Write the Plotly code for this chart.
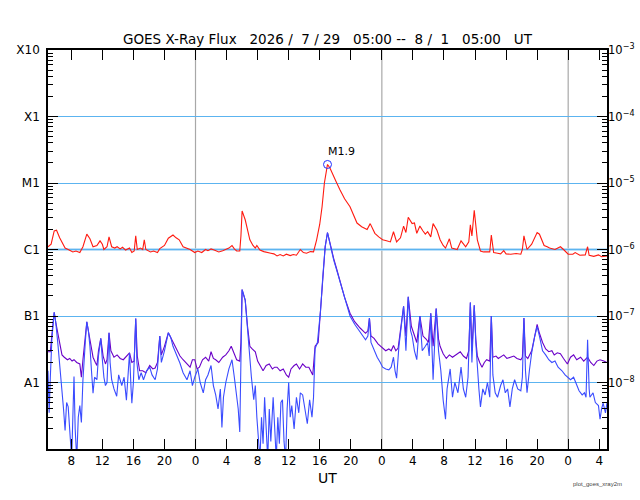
import plotly.graph_objects as go

# hours after 2026-07-29 05:00 UT, flux in W/m^2
red_pts = [
    (0.0, 1.1e-6), (0.4, 1.2e-6), (0.8, 1.9e-6), (1.1, 1.95e-6), (1.5, 1.5e-6), (2.2, 1.05e-6),
    (2.6, 1.0e-6), (3.2, 9.2e-7), (3.6, 9.5e-7), (4.1, 9e-7), (4.5, 1.1e-6), (5.0, 1.7e-6),
    (5.4, 1.45e-6), (5.8, 1.1e-6), (6.3, 1.15e-6), (6.7, 1.35e-6), (7.0, 1.2e-6), (7.2, 1.0e-6),
    (7.6, 1.1e-6), (7.86, 1.55e-6), (8.2, 1.1e-6), (8.6, 1.05e-6), (8.9, 1.1e-6), (9.3, 1.02e-6),
    (9.6, 1.08e-6), (10.0, 9.8e-7), (10.5, 1.05e-6), (10.8, 9e-7), (11.1, 9.5e-7), (11.3, 1.6e-6),
    (11.5, 1.0e-6), (11.9, 1.05e-6), (12.2, 1.0e-6), (12.4, 1.4e-6), (12.6, 1.0e-6), (13.2, 9.2e-7),
    (13.6, 9.5e-7), (14.1, 9e-7), (14.4, 1.03e-6), (15.0, 1.15e-6), (15.5, 1.48e-6), (16.1, 1.65e-6),
    (16.5, 1.5e-6), (16.9, 1.4e-6), (17.4, 1.1e-6), (17.9, 1.05e-6), (18.3, 1.0e-6), (18.9, 9e-7),
    (19.3, 9.5e-7), (19.8, 9e-7), (20.3, 1.0e-6), (20.6, 9.6e-7), (21.0, 1.02e-6), (21.4, 9.8e-7),
    (22.0, 9.2e-7), (22.5, 9.6e-7), (22.9, 1.0e-6), (23.3, 1.05e-6), (23.7, 1.15e-6), (24.0, 1.02e-6),
    (24.3, 9.5e-7), (24.7, 9.5e-7), (24.85, 1.6e-6), (25.0, 3.8e-6), (25.4, 2.8e-6), (25.7, 1.9e-6),
    (26.0, 1.4e-6), (26.4, 1.15e-6), (26.7, 1.05e-6), (26.9, 1.15e-6), (27.3, 9.8e-7), (27.8, 9.3e-7),
    (28.2, 9e-7), (28.7, 8.8e-7), (29.1, 8.6e-7), (29.5, 8e-7), (29.9, 8.4e-7), (30.3, 8e-7),
    (30.7, 8.5e-7), (31.2, 8.1e-7), (31.6, 8.4e-7), (32.0, 8.2e-7), (32.5, 1.0e-6), (32.9, 9e-7),
    (33.3, 8.8e-7), (33.8, 9.3e-7), (34.2, 9.2e-7), (34.6, 1.4e-6), (35.0, 2.4e-6), (35.3, 4.4e-6),
    (35.6, 1.0e-5), (36.0, 1.9e-5), (36.3, 1.7e-5), (36.6, 1.4e-5), (37.1, 1.05e-5), (37.6, 7.9e-6),
    (38.2, 5.8e-6), (38.9, 4.4e-6), (39.4, 3.2e-6), (39.8, 2.5e-6), (40.4, 2.2e-6), (41.1, 2.0e-6),
    (41.5, 2.45e-6), (42.1, 1.75e-6), (42.6, 1.55e-6), (43.1, 1.4e-6), (43.6, 1.35e-6), (44.1, 1.3e-6),
    (44.5, 1.85e-6), (44.9, 1.3e-6), (45.4, 1.5e-6), (45.8, 2.25e-6), (46.1, 1.8e-6), (46.4, 3.05e-6),
    (46.9, 2.45e-6), (47.2, 2.5e-6), (47.5, 1.75e-6), (47.9, 2.25e-6), (48.3, 1.9e-6), (48.6, 1.7e-6),
    (48.9, 1.85e-6), (49.3, 1.55e-6), (49.6, 2.45e-6), (50.1, 1.95e-6), (50.5, 1.4e-6), (50.9, 1.15e-6),
    (51.2, 1.05e-6), (51.7, 1.45e-6), (52.0, 1.05e-6), (52.7, 1.0e-6), (53.2, 1.35e-6), (53.8, 1.1e-6),
    (54.2, 1.3e-6), (54.4, 2.35e-6), (54.6, 1.6e-6), (54.9, 3.9e-6), (55.3, 1.4e-6), (55.7, 9.5e-7),
    (56.1, 9.2e-7), (56.5, 9.3e-7), (56.9, 9.2e-7), (57.1, 1.65e-6), (57.4, 9e-7), (57.9, 8.8e-7),
    (58.3, 8.6e-7), (58.7, 9.6e-7), (59.0, 8.6e-7), (59.6, 8.5e-7), (60.3, 8.7e-7), (60.9, 8.5e-7),
    (61.1, 1.0e-6), (61.3, 1.6e-6), (61.7, 1.0e-6), (62.3, 1.2e-6), (63.0, 1.8e-6), (63.3, 1.7e-6),
    (63.9, 1.15e-6), (64.3, 1.1e-6), (64.6, 1.05e-6), (65.3, 1.0e-6), (65.7, 1.05e-6), (66.0, 1.1e-6),
    (66.4, 1.0e-6), (67.0, 8.5e-7), (67.6, 8.5e-7), (67.9, 9e-7), (68.5, 8.2e-7), (69.2, 8.3e-7),
    (69.5, 1.1e-6), (69.7, 8.2e-7), (70.3, 7.9e-7), (70.9, 8.3e-7), (71.3, 7.8e-7), (71.6, 7.9e-7),
    (72.0, 8e-7),
]

blue_pts = [
    (0.0, 1.5e-8), (0.15, 3.5e-9), (0.3, 1.2e-8), (0.5, 4.5e-8), (0.8, 1.14e-7), (1.0, 8e-8),
    (1.3, 3.5e-8), (1.6, 1.5e-8), (1.8, 7.8e-9), (2.0, 4e-9), (2.2, 1.9e-9), (2.4, 5e-9),
    (2.6, 4.3e-9), (2.8, 1.5e-9), (3.05, 7e-10), (3.2, 3e-9), (3.35, 1.23e-8), (3.5, 2e-9),
    (3.7, 7e-10), (3.9, 3e-9), (4.1, 4.5e-9), (4.3, 2.5e-9), (4.5, 1.1e-8), (4.8, 4e-8),
    (5.0, 8.2e-8), (5.2, 6e-8), (5.4, 3.5e-8), (5.6, 1.5e-8), (5.8, 6.9e-9), (6.0, 1.2e-8),
    (6.3, 1.1e-8), (6.5, 2.5e-8), (6.8, 4.6e-8), (7.0, 2.2e-8), (7.2, 1.2e-8), (7.4, 9e-9),
    (7.6, 1.0e-8), (7.86, 5.6e-8), (8.0, 2e-8), (8.2, 1.1e-8), (8.5, 8e-9), (8.85, 6.2e-9),
    (9.1, 1.3e-8), (9.5, 9e-9), (9.8, 1.2e-8), (10.1, 5.4e-9), (10.3, 1.1e-8), (10.5, 2.8e-8),
    (10.7, 8e-9), (10.8, 4.9e-9), (11.0, 1.0e-8), (11.3, 9.2e-8), (11.45, 2e-8), (11.7, 1.1e-8),
    (12.0, 1.4e-8), (12.3, 1.1e-8), (12.7, 1.5e-8), (13.1, 1.7e-8), (13.4, 1.3e-8), (13.8, 1.1e-8),
    (14.1, 1.6e-8), (14.4, 5e-8), (14.6, 2e-8), (15.0, 3e-8), (15.5, 5.6e-8), (15.8, 4.8e-8),
    (16.1, 3.5e-8), (16.6, 2.6e-8), (17.0, 1.95e-8), (17.4, 1.4e-8), (17.9, 1.1e-8), (18.3, 1.5e-8),
    (18.6, 9e-9), (18.9, 1.2e-8), (19.3, 1.6e-8), (19.6, 1.0e-8), (20.0, 7e-9), (20.3, 1.1e-8),
    (20.6, 1.3e-8), (21.0, 1.8e-8), (21.3, 9e-9), (21.6, 6.5e-9), (21.9, 4e-9), (22.2, 8e-9),
    (22.4, 2.1e-9), (22.6, 6e-9), (22.9, 1.0e-8), (23.3, 1.6e-8), (23.7, 2.2e-8), (24.0, 1.2e-8),
    (24.3, 6e-9), (24.5, 4e-9), (24.7, 1.8e-9), (24.85, 3e-8), (25.0, 2.5e-7), (25.4, 1.74e-7),
    (25.7, 6e-8), (26.0, 2.4e-8), (26.2, 1.2e-8), (26.5, 5.5e-9), (26.7, 9e-9), (26.9, 3e-9),
    (27.1, 1.5e-9), (27.3, 7e-10), (27.5, 3e-9), (27.7, 1.2e-9), (27.9, 6e-9), (28.1, 2e-9),
    (28.3, 7e-10), (28.5, 4e-9), (28.7, 1.3e-9), (29.0, 6e-9), (29.2, 1.5e-9), (29.4, 7e-10),
    (29.6, 3e-9), (29.8, 1.2e-9), (30.0, 5e-9), (30.2, 5.5e-9), (30.4, 1.3e-9), (30.6, 7e-10),
    (30.8, 4e-9), (31.0, 1.0e-8), (31.2, 3e-9), (31.4, 4.5e-9), (31.7, 2e-9), (32.0, 6e-9),
    (32.3, 3.5e-9), (32.5, 7e-9), (32.8, 6.5e-9), (33.1, 4e-9), (33.4, 2.4e-9), (33.7, 5.5e-9),
    (34.0, 3e-9), (34.2, 6e-9), (34.4, 3.2e-8), (34.7, 4e-8), (35.1, 1.2e-7), (35.4, 4e-7),
    (35.7, 1.1e-6), (36.0, 1.8e-6), (36.3, 1.2e-6), (36.8, 6.9e-7), (37.2, 4.8e-7), (37.6, 3.3e-7),
    (38.2, 1.8e-7), (38.9, 1.0e-7), (39.5, 7.5e-8), (40.2, 5.8e-8), (40.9, 4.4e-8), (41.2, 5e-8),
    (41.4, 9.3e-8), (41.6, 4e-8), (42.0, 3e-8), (42.4, 2.4e-8), (42.8, 2e-8), (43.1, 1.7e-8),
    (43.5, 1.6e-8), (43.9, 1.55e-8), (44.2, 1.7e-8), (44.5, 2.4e-8), (44.7, 1.5e-8), (44.9, 1.16e-8),
    (45.2, 3.5e-8), (45.5, 7e-8), (45.8, 1.4e-7), (46.1, 3e-8), (46.4, 1.95e-7), (46.7, 6e-8),
    (46.9, 5e-8), (47.2, 3e-8), (47.5, 2.2e-8), (47.9, 1.0e-7), (48.2, 3e-8), (48.6, 3.5e-8),
    (48.9, 4e-8), (49.1, 2.5e-8), (49.3, 1.1e-7), (49.6, 1.1e-8), (49.8, 3e-8), (50.0, 1.3e-7),
    (50.3, 3e-8), (50.6, 1.5e-8), (50.9, 5.4e-9), (51.2, 2.8e-9), (51.4, 8e-9), (51.6, 1.2e-8),
    (51.8, 1.6e-8), (52.1, 6e-9), (52.4, 1.0e-8), (52.8, 7e-9), (53.2, 1.7e-8), (53.5, 8e-9),
    (53.8, 6e-9), (54.1, 1.2e-8), (54.4, 1.6e-7), (54.6, 2e-8), (54.9, 1.45e-7), (55.1, 4e-8),
    (55.3, 1.5e-8), (55.5, 8e-9), (55.7, 4.3e-9), (56.0, 8e-9), (56.3, 6.5e-9), (56.6, 1.0e-8),
    (56.9, 6e-9), (57.1, 1.0e-7), (57.3, 1.3e-8), (57.6, 7e-9), (57.9, 6e-9), (58.3, 9e-9),
    (58.6, 1.1e-8), (58.9, 7e-9), (59.2, 8e-9), (59.5, 4.3e-9), (59.8, 8e-9), (60.1, 1.1e-8),
    (60.5, 8e-9), (60.9, 7.5e-9), (61.1, 1.2e-8), (61.3, 9.3e-8), (61.5, 1.5e-8), (61.7, 7e-9),
    (62.0, 1.5e-8), (62.3, 2.8e-8), (62.7, 5e-8), (63.0, 6.9e-8), (63.3, 5e-8), (63.7, 3e-8),
    (64.1, 2.6e-8), (64.5, 2.2e-8), (64.9, 2e-8), (65.3, 2.1e-8), (65.7, 1.7e-8), (66.2, 1.5e-8),
    (66.6, 1.3e-8), (67.0, 1.2e-8), (67.3, 1.1e-8), (67.7, 1.2e-8), (68.0, 1.0e-8), (68.4, 7.5e-9),
    (68.8, 6.5e-9), (69.1, 7e-9), (69.3, 6e-9), (69.5, 4.4e-8), (69.7, 8e-9), (69.8, 6e-9),
    (70.2, 7e-9), (70.5, 5e-9), (70.9, 4.5e-9), (71.1, 2.8e-9), (71.3, 4e-9), (71.5, 4.9e-9),
    (71.8, 3.5e-9), (72.0, 5e-9),
]

purple_pts = [
    (0.0, 2.9e-8), (0.3, 2.9e-8), (0.55, 6e-8), (0.8, 1.14e-7), (1.0, 8e-8), (1.3, 5e-8),
    (1.6, 3.3e-8), (1.8, 2.6e-8), (2.1, 2.4e-8), (2.5, 2.2e-8), (2.8, 2.3e-8), (3.1, 2.1e-8),
    (3.35, 2.2e-8), (3.7, 2e-8), (4.1, 1.9e-8), (4.3, 1.2e-8), (4.5, 2.2e-8), (4.8, 5e-8),
    (5.0, 8.2e-8), (5.2, 6e-8), (5.5, 3.5e-8), (5.8, 2.4e-8), (6.1, 2e-8), (6.3, 1.8e-8),
    (6.5, 3e-8), (6.8, 4.6e-8), (7.1, 2.5e-8), (7.4, 1.9e-8), (7.6, 2.2e-8), (7.86, 5.6e-8),
    (8.1, 3e-8), (8.5, 2.4e-8), (8.9, 2.6e-8), (9.3, 2.3e-8), (9.7, 2.2e-8), (10.1, 2.5e-8),
    (10.5, 2.8e-8), (10.8, 2.0e-8), (11.1, 2.1e-8), (11.3, 9.2e-8), (11.5, 2.5e-8), (11.8, 1.5e-8),
    (12.2, 1.5e-8), (12.6, 1.4e-8), (13.1, 1.8e-8), (13.5, 1.6e-8), (13.8, 1.65e-8), (14.1, 2e-8),
    (14.4, 5e-8), (14.6, 2.6e-8), (15.0, 3.5e-8), (15.5, 5.6e-8), (15.9, 4.5e-8), (16.2, 4e-8),
    (16.6, 3.2e-8), (17.0, 2.5e-8), (17.4, 2.2e-8), (17.9, 1.9e-8), (18.3, 1.7e-8), (18.6, 2.2e-8),
    (18.9, 2.2e-8), (19.2, 1.6e-8), (19.5, 1.7e-8), (19.9, 2.2e-8), (20.3, 2.4e-8), (20.7, 2.1e-8),
    (21.0, 2.9e-8), (21.3, 2.3e-8), (21.6, 2.2e-8), (22.0, 2e-8), (22.5, 2.4e-8), (22.9, 2.6e-8),
    (23.3, 3e-8), (23.6, 3.5e-8), (23.9, 2.8e-8), (24.3, 2.2e-8), (24.7, 2.1e-8), (24.85, 4e-8),
    (25.0, 2.5e-7), (25.4, 1.74e-7), (25.7, 7e-8), (26.0, 3.5e-8), (26.3, 3.2e-8), (26.7, 2.9e-8),
    (27.0, 2.1e-8), (27.4, 1.7e-8), (27.7, 1.5e-8), (28.1, 1.8e-8), (28.5, 1.9e-8), (28.9, 1.6e-8),
    (29.2, 1.7e-8), (29.5, 1.7e-8), (29.9, 1.5e-8), (30.3, 1.6e-8), (30.7, 1.3e-8), (31.0, 1.2e-8),
    (31.3, 1.6e-8), (31.7, 1.8e-8), (32.0, 1.9e-8), (32.4, 1.6e-8), (32.8, 1.9e-8), (33.2, 1.7e-8),
    (33.6, 1.7e-8), (34.1, 1.3e-8), (34.4, 3.5e-8), (34.8, 4e-8), (35.1, 1.2e-7), (35.4, 4.2e-7),
    (35.7, 1.1e-6), (36.0, 1.8e-6), (36.3, 1.25e-6), (36.8, 7.3e-7), (37.2, 5e-7), (37.6, 3.4e-7),
    (38.2, 1.9e-7), (38.9, 1.1e-7), (39.5, 8.2e-8), (40.2, 6.6e-8), (40.9, 5.5e-8), (41.2, 6e-8),
    (41.4, 9.3e-8), (41.6, 5e-8), (42.0, 4.6e-8), (42.5, 3.8e-8), (43.1, 3.3e-8), (43.5, 3.0e-8),
    (43.9, 3.2e-8), (44.2, 3e-8), (44.5, 3.6e-8), (44.8, 3e-8), (45.1, 3.3e-8), (45.5, 8e-8),
    (45.8, 1.4e-7), (46.1, 5e-8), (46.4, 1.95e-7), (46.8, 7e-8), (47.1, 5.5e-8), (47.5, 4e-8),
    (47.9, 1.0e-7), (48.3, 5e-8), (48.7, 4.5e-8), (49.0, 4e-8), (49.3, 1.1e-7), (49.6, 3.5e-8),
    (50.0, 1.3e-7), (50.3, 4.5e-8), (50.5, 3.5e-8), (50.9, 2.7e-8), (51.3, 2.3e-8), (51.7, 2.6e-8),
    (52.1, 2.4e-8), (52.5, 2.6e-8), (53.1, 2.9e-8), (53.5, 2.5e-8), (53.9, 2.3e-8), (54.2, 3e-8),
    (54.4, 1.6e-7), (54.6, 3e-8), (54.9, 1.45e-7), (55.1, 4.5e-8), (55.3, 2.5e-8), (55.6, 2e-8),
    (55.9, 1.7e-8), (56.2, 2e-8), (56.5, 2.2e-8), (56.9, 2.1e-8), (57.1, 1.0e-7), (57.3, 2.4e-8),
    (57.7, 2.5e-8), (58.0, 2.3e-8), (58.3, 2.4e-8), (58.7, 2.6e-8), (59.1, 2.3e-8), (59.5, 2.4e-8),
    (60.0, 2.5e-8), (60.4, 2.3e-8), (60.9, 2.2e-8), (61.1, 2.4e-8), (61.3, 9.3e-8), (61.5, 2.5e-8),
    (61.8, 2.3e-8), (62.3, 3e-8), (62.7, 5e-8), (63.0, 7.5e-8), (63.3, 5.5e-8), (63.7, 4e-8),
    (64.1, 3.2e-8), (64.5, 2.9e-8), (64.9, 3e-8), (65.2, 2.6e-8), (65.6, 2.8e-8), (66.0, 2.7e-8),
    (66.4, 2.3e-8), (66.9, 1.9e-8), (67.3, 2.4e-8), (67.7, 2.6e-8), (68.1, 2.2e-8), (68.6, 2.4e-8),
    (69.0, 2.1e-8), (69.5, 2.4e-8), (69.9, 2e-8), (70.3, 1.8e-8), (70.7, 2.1e-8), (71.1, 2.2e-8),
    (71.6, 2.1e-8), (72.0, 2.0e-8),
]

peak_hour = 36.0
peak_flux = 1.9e-5
peak_label = "M1.9"

hour_ticks = [3, 7, 11, 15, 19, 23, 27, 31, 35, 39, 43, 47, 51, 55, 59, 63, 67, 71]
hour_labels = ["8", "12", "16", "20", "0", "4", "8", "12", "16", "20", "0", "4", "8", "12", "16", "20", "0", "4"]
day_starts = [19, 43, 67]

flux_ticks = [1e-3, 1e-4, 1e-5, 1e-6, 1e-7, 1e-8]
class_labels = ["X10", "X1", "M1", "C1", "B1", "A1"]
power_labels = ["10<sup>−3</sup>", "10<sup>−4</sup>", "10<sup>−5</sup>",
                "10<sup>−6</sup>", "10<sup>−7</sup>", "10<sup>−8</sup>"]

minor_vals = [m * 10.0 ** e for e in range(-9, -3) for m in range(2, 10)]

FONT = "DejaVu Sans"
NB = "\u00a0"

fig = go.Figure()

for pts, color in [(purple_pts, "#6a00c8"), (blue_pts, "#3a4cff"), (red_pts, "#ff1a10")]:
    fig.add_trace(go.Scatter(x=[p[0] for p in pts], y=[p[1] for p in pts], mode="lines",
                             line=dict(color=color, width=1.1), hoverinfo="skip"))

fig.add_trace(go.Scatter(x=[peak_hour], y=[peak_flux], mode="markers",
                         marker=dict(symbol="circle-open", size=8, color="#2030ff", line=dict(width=1))))
# dummy trace so the right axis gets drawn
fig.add_trace(go.Scatter(x=[0], y=[1e-6], yaxis="y2", mode="markers", marker=dict(opacity=0),
                         hoverinfo="skip"))

for d in day_starts:
    fig.add_vline(x=d, line=dict(color="#a8a8a8", width=1.2), layer="below")
fig.add_hline(y=1e-6, line=dict(color="#a8d6f6", width=2.5), layer="below")

fig.add_annotation(x=peak_hour, y=-4.72, text=peak_label, showarrow=False, xshift=14, yshift=13,
                   font=dict(family=FONT, size=11, color="black"))

title = ("GOES X-Ray Flux" + NB * 3 + "2026 /" + NB * 2 + "7 / 29" + NB * 3 + "05:00 --" + NB * 2 +
         "8 /" + NB * 2 + "1" + NB * 3 + "05:00" + NB * 3 + "UT")
fig.add_annotation(xref="paper", yref="paper", x=0.5, y=1.0, yshift=1, yanchor="bottom",
                   text=title, showarrow=False, font=dict(family=FONT, size=13.5, color="black"))
fig.add_annotation(xref="paper", yref="paper", x=1.0, y=0, yshift=-35, xshift=-10,
                   xanchor="center", yanchor="middle", text="plot_goes_xray2m", showarrow=False,
                   font=dict(family="Liberation Sans", size=6, color="#444"))

fig.update_layout(
    width=640, height=500,
    margin=dict(l=48, r=33, t=50, b=51, autoexpand=False),
    paper_bgcolor="white", plot_bgcolor="white",
    showlegend=False,
    font=dict(family=FONT, size=12, color="black"),
    xaxis=dict(range=[0, 72], tickmode="array", tickvals=hour_ticks, ticktext=hour_labels,
               ticks="inside", ticklen=10, tickcolor="black", showgrid=False, zeroline=False,
               showline=True, linecolor="black", linewidth=1.5, mirror="ticks", automargin=False,
               title=dict(text="UT", font=dict(size=14), standoff=6)),
    yaxis=dict(type="log", range=[-9, -3], tickmode="array", tickvals=flux_ticks, ticktext=class_labels,
               ticks="inside", ticklen=10, tickcolor="black", showgrid=True, gridcolor="#5cb4f0",
               gridwidth=1, zeroline=False, showline=True, linecolor="black", linewidth=1.5,
               ticklabelstandoff=4, automargin=False,
               minor=dict(tickmode="array", tickvals=minor_vals, ticks="inside", ticklen=5,
                          tickcolor="black", showgrid=False)),
    yaxis2=dict(type="log", range=[-9, -3], overlaying="y", side="right", tickmode="array",
                tickvals=flux_ticks, ticktext=power_labels, ticks="inside", ticklen=10,
                tickcolor="black", showgrid=False, zeroline=False, showline=True, linecolor="black",
                linewidth=1.5, ticklabelstandoff=-3, automargin=False,
                tickfont=dict(family=FONT, size=11.5),
                minor=dict(tickmode="array", tickvals=minor_vals, ticks="inside", ticklen=5,
                           tickcolor="black", showgrid=False)),
)

# drop the default 8px page margin so the figure sits at the window's corner
fig.write_html("out.html", config={"displayModeBar": False},
               post_script="document.body.style.margin='0';")
